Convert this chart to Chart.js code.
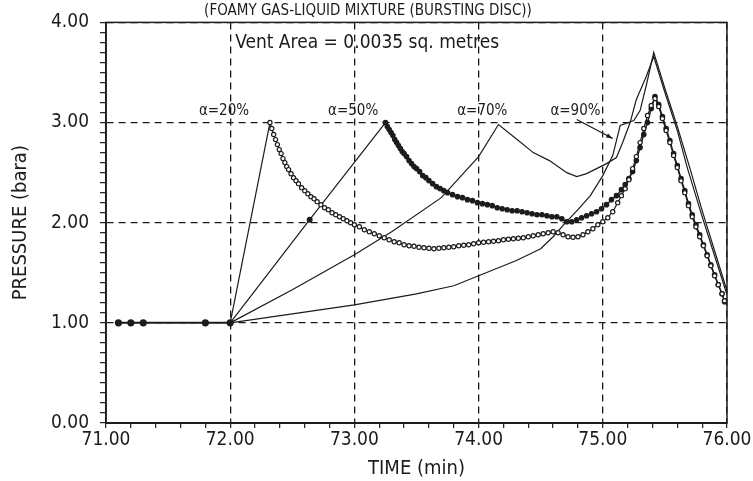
<!DOCTYPE html>
<html>
<head>
<meta charset="utf-8">
<script src="https://cdn.jsdelivr.net/npm/chart.js@4"></script>
<style>
html, body { margin:0; padding:0; background:#fff; }
canvas { display:block; }
</style>
</head>
<body>
<canvas id="c" width="753" height="481"></canvas>
<script>
// run-in before the disc bursts, same for every case
const baseT = [71.1, 71.2, 71.3, 71.8, 72.0]
const baseP = [1.0, 1.0, 1.0, 1.0, 1.0]

// pressure rise up to the burst (thin lines)
const rise20T = [72.0, 72.32]
const rise20P = [1.0, 3.0]
const rise50T = [72.0, 72.64, 73.25]
const rise50P = [1.0, 2.03, 3.0]

// alpha = 20% after burst (open circles)
const a20T = [72.32,72.335,72.35,72.365,72.38,72.395,72.41,72.425,72.44,72.455,72.47,72.49,72.51,72.53,72.55,72.575,72.6,72.625,72.65,72.675,72.7,72.73,72.76,72.79,72.82,72.85,72.88,72.91,72.94,72.97,73.0,
  73.04,73.08,73.12,73.16,73.2,73.24,73.28,73.32,73.36,73.4,73.44,73.48,73.52,73.56,73.6,73.64,73.68,73.72,73.76,73.8,73.84,73.88,73.92,73.96,74.0,
  74.04,74.08,74.12,74.16,74.2,74.24,74.28,74.32,74.36,74.4,74.44,74.48,74.52,74.56,74.6,74.64,74.68,74.72,74.76,74.8,74.84,74.88,74.92,74.96,75.0,
  75.04,75.08,75.12,75.15,75.18,75.21,75.24,75.27,75.3,75.33,75.36,75.39,75.42,75.45,75.48,75.51,75.54,75.57,75.6,75.63,75.66,75.69,75.72,75.75,75.78,75.81,75.84,75.87,75.9,75.93,75.96,75.98]
const a20P = [3.0,2.94,2.88,2.83,2.78,2.73,2.69,2.64,2.6,2.56,2.53,2.49,2.45,2.42,2.39,2.35,2.32,2.29,2.26,2.24,2.21,2.18,2.15,2.13,2.1,2.08,2.06,2.04,2.02,2.0,1.98,
  1.96,1.93,1.91,1.89,1.87,1.85,1.83,1.81,1.8,1.78,1.77,1.765,1.755,1.75,1.745,1.74,1.745,1.75,1.755,1.76,1.77,1.775,1.78,1.79,1.8,
  1.805,1.81,1.815,1.82,1.83,1.835,1.84,1.845,1.85,1.86,1.87,1.88,1.89,1.9,1.91,1.9,1.88,1.86,1.855,1.86,1.88,1.91,1.94,1.98,2.01,
  2.05,2.11,2.2,2.27,2.34,2.43,2.54,2.66,2.8,2.94,3.07,3.17,3.24,3.16,3.04,2.92,2.8,2.67,2.55,2.42,2.3,2.17,2.06,1.96,1.86,1.77,1.67,1.57,1.47,1.38,1.29,1.22]

// alpha = 50% after burst (filled dots)
const a50T = [73.25,73.265,73.28,73.295,73.31,73.325,73.34,73.355,73.37,73.385,73.4,73.42,73.44,73.46,73.48,73.5,73.525,73.55,73.575,73.6,73.63,73.66,73.69,73.72,73.75,
  73.79,73.83,73.87,73.91,73.95,73.99,74.03,74.07,74.11,74.15,74.19,74.23,74.27,74.31,74.35,74.39,74.43,74.47,74.51,74.55,74.59,74.63,74.67,74.71,74.75,
  74.79,74.83,74.87,74.91,74.95,74.99,75.03,75.07,75.11,75.15,75.18,75.21,75.24,75.27,75.3,75.33,75.36,75.39,75.42,
  75.45,75.48,75.51,75.54,75.57,75.6,75.63,75.66,75.69,75.72,75.75,75.78,75.81,75.84,75.87,75.9,75.93,75.96,75.98]
const a50P = [3.0,2.96,2.93,2.9,2.87,2.83,2.8,2.77,2.74,2.71,2.69,2.66,2.62,2.59,2.56,2.54,2.51,2.47,2.45,2.42,2.39,2.36,2.34,2.32,2.3,
  2.28,2.26,2.25,2.23,2.22,2.2,2.19,2.18,2.17,2.15,2.14,2.13,2.12,2.12,2.11,2.1,2.09,2.08,2.08,2.07,2.06,2.06,2.04,2.01,2.01,
  2.03,2.05,2.07,2.09,2.11,2.14,2.18,2.23,2.27,2.33,2.38,2.44,2.51,2.62,2.75,2.88,3.0,3.14,3.26,
  3.18,3.06,2.94,2.82,2.69,2.57,2.44,2.32,2.19,2.08,1.98,1.88,1.78,1.68,1.58,1.48,1.38,1.29,1.21]

// alpha = 70% (thin line)
const a70T = [72.0,72.5,73.0,73.3,73.7,74.0,74.16,74.31,74.44,74.57,74.71,74.79,74.87,74.95,75.03,75.11,75.16,75.22,75.27,75.35,75.41,75.5,75.6,75.68,75.8,75.9,76.0]
const a70P = [1.0,1.33,1.68,1.91,2.25,2.66,2.98,2.83,2.7,2.62,2.5,2.46,2.49,2.54,2.59,2.65,2.8,3.0,3.23,3.46,3.66,3.3,2.92,2.55,2.06,1.67,1.28]

// alpha = 90% (thin line)
const a90T = [72.0,72.5,73.0,73.5,73.8,74.0,74.3,74.5,74.6,74.7,74.8,74.9,75.0,75.08,75.14,75.25,75.3,75.35,75.41,75.5,75.6,75.7,75.8,75.9,76.0]
const a90P = [1.0,1.09,1.18,1.29,1.37,1.47,1.62,1.74,1.86,2.0,2.13,2.27,2.47,2.67,2.97,3.02,3.12,3.37,3.7,3.34,2.96,2.55,2.12,1.72,1.32]

const alphaNames = ['α=20%', 'α=50%', 'α=70%', 'α=90%']
const alphaAt = [71.95, 72.99, 74.03, 74.78]

const fam = "'Liberation Sans Narrow', 'DejaVu Sans Condensed', sans-serif"
const ink = '#1c1c1c'
const isMajor = v => Math.abs(v - Math.round(v)) < 1e-6
const zip = (xs, ys) => xs.map((x, i) => ({x, y: ys[i]}))

Chart.defaults.font.family = fam
Chart.defaults.color = ink

const notes = {
  id: 'notes',
  afterDraw(c) {
    const {ctx, chartArea: a, scales: {x, y}} = c
    ctx.save()
    ctx.strokeStyle = ink
    ctx.lineWidth = 1.5
    ctx.strokeRect(a.left, a.top, a.right - a.left, a.bottom - a.top)

    ctx.fillStyle = ink
    ctx.font = `15px ${fam}`
    ctx.textAlign = 'center'
    ctx.textBaseline = 'alphabetic'
    ctx.fillText('(FOAMY GAS-LIQUID MIXTURE (BURSTING DISC))', 368, 15)

    ctx.font = `19px ${fam}`
    ctx.textAlign = 'left'
    ctx.textBaseline = 'middle'
    ctx.fillText('Vent Area = 0.0035 sq. metres', x.getPixelForValue(72.04), y.getPixelForValue(3.79))

    ctx.font = `15px ${fam}`
    ctx.textAlign = 'center'
    alphaNames.forEach((s, i) => ctx.fillText(s, x.getPixelForValue(alphaAt[i]), y.getPixelForValue(3.11)))

    // arrow from the 90% label to its curve
    const x1 = x.getPixelForValue(74.79), y1 = y.getPixelForValue(3.03)
    const x2 = x.getPixelForValue(75.08), y2 = y.getPixelForValue(2.84)
    ctx.lineWidth = 1.2
    ctx.beginPath(); ctx.moveTo(x1, y1); ctx.lineTo(x2, y2); ctx.stroke()
    const ang = Math.atan2(y2 - y1, x2 - x1)
    ctx.beginPath()
    ctx.moveTo(x2, y2)
    ctx.lineTo(x2 - 7 * Math.cos(ang - 0.35), y2 - 7 * Math.sin(ang - 0.35))
    ctx.lineTo(x2 - 7 * Math.cos(ang + 0.35), y2 - 7 * Math.sin(ang + 0.35))
    ctx.closePath(); ctx.fill()
    ctx.restore()
  }
}

const thin = (data, extra) => Object.assign({
  data, showLine: true, borderColor: ink, borderWidth: 1.2, pointRadius: 0, tension: 0
}, extra || {})

new Chart(document.getElementById('c'), {
  type: 'scatter',
  data: {
    datasets: [
      thin(zip(baseT, baseP), {borderWidth: 2, pointRadius: 2.6, pointBackgroundColor: ink, pointBorderColor: ink}),
      thin(zip(a20T, a20P), {borderWidth: 1.2, pointRadius: 2.1, pointBorderWidth: 1.2, pointBackgroundColor: '#fff', pointBorderColor: ink}),
      thin(zip(a50T, a50P), {borderWidth: 1.4, pointRadius: 2.1, pointBackgroundColor: ink, pointBorderColor: ink}),
      thin(zip(rise20T, rise20P)),
      thin(zip(rise50T, rise50P), {pointRadius: [0, 2.4, 0], pointBackgroundColor: ink, pointBorderColor: ink}),
      thin(zip(a70T, a70P)),
      thin(zip(a90T, a90P)),
    ]
  },
  options: {
    responsive: false,
    animation: false,
    devicePixelRatio: 1,
    layout: { padding: { top: 19, right: 26, left: 0, bottom: 0 } },
    plugins: { legend: { display: false }, tooltip: { enabled: false } },
    scales: {
      x: {
        type: 'linear', min: 71, max: 76,
        ticks: {
          stepSize: 0.2, autoSkip: false, maxRotation: 0, padding: 1, color: ink,
          font: { size: 19 },
          callback: v => isMajor(v) ? v.toFixed(2) : ''
        },
        grid: {
          color: c => isMajor(c.tick.value) ? ink : 'rgba(0,0,0,0)',
          lineWidth: 1.3, tickColor: ink, tickLength: 5, tickWidth: 1.2
        },
        border: { color: ink, width: 2, dash: [7, 5] },
        title: { display: true, text: 'TIME (min)', color: ink, font: { size: 20 }, padding: { top: 0, bottom: 0 } },
        afterFit: s => { s.height = 58 }
      },
      y: {
        min: 0, max: 4,
        ticks: {
          stepSize: 0.1, autoSkip: false, padding: 11, color: ink,
          font: { size: 19 },
          callback: v => isMajor(v) ? v.toFixed(2) : ''
        },
        grid: {
          color: c => isMajor(c.tick.value) ? ink : 'rgba(0,0,0,0)',
          lineWidth: 1.3, tickColor: ink, tickLength: 6, tickWidth: 1.2
        },
        border: { color: ink, width: 1.6, dash: [7, 5] },
        title: { display: true, text: 'PRESSURE (bara)', color: ink, font: { size: 20 }, padding: { top: 9, bottom: 0 } },
        afterFit: s => { s.width = 106 }
      }
    }
  },
  plugins: [notes]
})
</script>
</body>
</html>
